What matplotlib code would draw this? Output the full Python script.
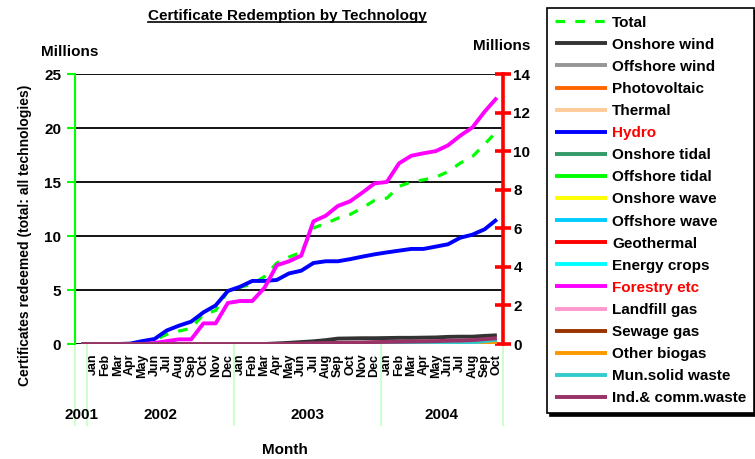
import matplotlib
matplotlib.use('Agg')
import matplotlib.pyplot as plt
from matplotlib.lines import Line2D
import matplotlib.transforms as mtransforms

plt.rcParams['font.family'] = ['Liberation Sans', 'DejaVu Sans']
plt.rcParams['font.weight'] = 'bold'

years = ['2001', '2002', '2003', '2004']
year_counts = [1, 12, 12, 10]
month_labels = ['',
                'Jan', 'Feb', 'Mar', 'Apr', 'May', 'Jun', 'Jul', 'Aug', 'Sep', 'Oct', 'Nov', 'Dec',
                'Jan', 'Feb', 'Mar', 'Apr', 'May', 'Jun', 'Jul', 'Aug', 'Sep', 'Oct', 'Nov', 'Dec',
                'Jan', 'Feb', 'Mar', 'Apr', 'May', 'Jun', 'Jul', 'Aug', 'Sep', 'Oct']

# left axis (millions)
total = [0, 0, 0, 0, 0.05, 0.2, 0.35, 0.9, 1.2, 1.45, 2.75, 3.1, 4.9, 5.25, 5.55,
         6.25, 7.5, 8.05, 8.5, 10.75, 11.15, 11.65, 12.0, 12.6, 13.3, 13.5, 14.6,
         15.0, 15.2, 15.45, 15.95, 16.75, 17.35, 18.5, 19.7]

# right axis (millions)
onshore_wind = [0, 0, 0, 0, 0, 0, 0, 0, 0, 0, 0, 0, 0, 0, 0, 0, 0.03, 0.06, 0.1,
                0.14, 0.2, 0.28, 0.29, 0.3, 0.3, 0.31, 0.32, 0.32, 0.33, 0.34,
                0.37, 0.38, 0.38, 0.42, 0.45]
offshore_wind = [0] * 35
photovoltaic = [0] * 35
thermal = [0] * 35
hydro = [0, 0, 0, 0, 0.02, 0.15, 0.26, 0.7, 0.95, 1.16, 1.64, 2.0, 2.75, 2.97, 3.27,
         3.27, 3.32, 3.66, 3.8, 4.2, 4.29, 4.29, 4.4, 4.53, 4.65, 4.75, 4.84, 4.93,
         4.93, 5.05, 5.17, 5.51, 5.67, 5.95, 6.46]
onshore_tidal = [0] * 35
offshore_tidal = [0] * 35
onshore_wave = [0] * 35
offshore_wave = [0] * 35
geothermal = [0] * 35
energy_crops = [0] * 35
forestry = [0, 0, 0, 0, 0, 0, 0.05, 0.15, 0.24, 0.24, 1.07, 1.07, 2.13, 2.23, 2.23,
            2.92, 4.08, 4.29, 4.58, 6.36, 6.65, 7.16, 7.4, 7.85, 8.33, 8.4, 9.37,
            9.76, 9.89, 10.0, 10.3, 10.8, 11.23, 12.05, 12.77]
landfill_gas = [0] * 35
sewage_gas = [0, 0, 0, 0, 0, 0, 0, 0, 0, 0, 0, 0, 0, 0, 0, 0, 0, 0, 0, 0, 0,
              0.01, 0.01, 0.01, 0.01, 0.02, 0.02, 0.02, 0.02, 0.02, 0.03, 0.03,
              0.03, 0.03, 0.04]
other_biogas = [0, 0, 0, 0, 0, 0, 0, 0, 0, 0, 0, 0, 0, 0, 0, 0, 0, 0, 0, 0, 0, 0,
                0, 0, 0, 0, 0, 0, 0, 0, 0, 0, 0, 0.01, 0.06]
mun_solid_waste = [0, 0, 0, 0, 0, 0, 0, 0, 0, 0, 0, 0, 0, 0, 0, 0, 0, 0, 0, 0, 0,
                   0, 0, 0, 0, 0, 0, 0, 0, 0, 0.02, 0.05, 0.08, 0.15, 0.22]
ind_comm_waste = [0, 0, 0, 0, 0, 0, 0, 0, 0, 0, 0, 0, 0, 0, 0, 0, 0, 0, 0.02,
                  0.04, 0.05, 0.06, 0.07, 0.08, 0.1, 0.11, 0.12, 0.13, 0.14, 0.15,
                  0.17, 0.18, 0.2, 0.25, 0.3]

techs = [
    ('Onshore wind', onshore_wind, '#333333'),
    ('Offshore wind', offshore_wind, '#969696'),
    ('Photovoltaic', photovoltaic, '#FF6600'),
    ('Thermal', thermal, '#FFCC99'),
    ('Hydro', hydro, '#0000FF'),
    ('Onshore tidal', onshore_tidal, '#339966'),
    ('Offshore tidal', offshore_tidal, '#00FF00'),
    ('Onshore wave', onshore_wave, '#FFFF00'),
    ('Offshore wave', offshore_wave, '#00CCFF'),
    ('Geothermal', geothermal, '#FF0000'),
    ('Energy crops', energy_crops, '#00FFFF'),
    ('Forestry etc', forestry, '#FF00FF'),
    ('Landfill gas', landfill_gas, '#FF99CC'),
    ('Sewage gas', sewage_gas, '#993300'),
    ('Other biogas', other_biogas, '#FF9900'),
    ('Mun.solid waste', mun_solid_waste, '#33CCCC'),
    ('Ind.& comm.waste', ind_comm_waste, '#993366'),
]

fig = plt.figure(figsize=(7.55, 4.59), dpi=100)
ax = fig.add_axes([75 / 755, 115 / 459, 428 / 755, 270 / 459])
ax2 = ax.twinx()

x = list(range(len(month_labels)))
h_total, = ax.plot(x, total, color='#00FF00', lw=2.3, linestyle=(0, (3, 3.2)), label='Total')
handles = [h_total]
for name, vals, col in techs:
    h, = ax2.plot(x, vals, color=col, lw=2.8, label=name, solid_capstyle='butt')
    handles.append(h)

ax.set_xlim(-0.5, len(x) - 0.5)
ax.set_ylim(0, 25)
ax.set_yticks([0, 5, 10, 15, 20, 25])
ax2.set_ylim(0, 14)
ax2.set_yticks(range(0, 15, 2))
ax.yaxis.grid(True, color='black', lw=1.3)
ax.set_axisbelow(True)

for s in ['top', 'bottom', 'right']:
    ax.spines[s].set_visible(False)
for s in ['top', 'bottom', 'left']:
    ax2.spines[s].set_visible(False)
ax.spines['left'].set_color('#00FF00')
ax.spines['left'].set_linewidth(1.5)
ax2.spines['right'].set_color('red')
ax2.spines['right'].set_linewidth(2.6)

ax.tick_params(axis='y', color='#00FF00', width=1.5, length=6, labelsize=11, pad=4)
ax2.tick_params(axis='y', color='red', width=2.6, length=11, direction='inout', labelsize=11, pad=2)
ax.set_xticks(x)
ax.set_xticklabels(month_labels, rotation=90, fontsize=9)
ax.tick_params(axis='x', length=0, pad=7)

# year groups below the month labels
trans = mtransforms.blended_transform_factory(ax.transData, ax.transAxes)
start = -0.5
for yr, n in zip(years, year_counts):
    ax.plot([start, start], [0, -0.3], color='#CCFFCC', lw=1.5, transform=trans, clip_on=False)
    ax.text(start + n / 2, -0.262, yr, transform=trans, ha='center', va='center', fontsize=11)
    start += n
ax.plot([start, start], [0, -0.3], color='#CCFFCC', lw=1.5, transform=trans, clip_on=False)

fig.text(287 / 755, 1 - 16 / 459, 'Certificate Redemption by Technology', ha='center', va='center', fontsize=11)
fig.text(70 / 755, 1 - 52 / 459, 'Millions', ha='center', va='center', fontsize=11)
fig.text(502 / 755, 1 - 46 / 459, 'Millions', ha='center', va='center', fontsize=11)
fig.text(25 / 755, 1 - 235 / 459, 'Certificates redeemed (total: all technologies)',
         ha='center', va='center', rotation=90, fontsize=10)
fig.text(285 / 755, 1 - 450 / 459, 'Month', ha='center', va='center', fontsize=11)

leg = fig.legend(handles=handles, loc='upper left', bbox_to_anchor=(547 / 755, 1 - 8 / 459),
                 borderaxespad=0, frameon=True, fancybox=False, edgecolor='black',
                 fontsize=11, handlelength=3.4, handletextpad=0.35, labelspacing=0.53,
                 borderpad=0.5, shadow={'color': 'black', 'alpha': 1})
leg.get_frame().set_linewidth(1.2)
for t in leg.get_texts():
    if t.get_text() in ('Hydro', 'Forestry etc'):
        t.set_color('red')

# underline the title
fig.canvas.draw()
title = [t for t in fig.texts if t.get_text().startswith('Certificate R')][0]
bb = title.get_window_extent().transformed(fig.transFigure.inverted())
fig.add_artist(Line2D([bb.x0, bb.x1], [bb.y0 + 0.002, bb.y0 + 0.002], color='black', lw=1.2,
                      transform=fig.transFigure))

fig.savefig('out.png', dpi=100)
